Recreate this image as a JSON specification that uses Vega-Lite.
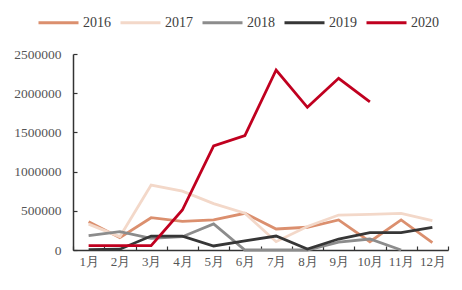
{
  "$schema": "https://vega.github.io/schema/vega-lite/v6.json",
  "width": 375,
  "height": 196,
  "autosize": {"type": "none"},
  "padding": {"left": 73, "top": 54, "right": 14, "bottom": 40},
  "background": "white",
  "config": {
    "view": {"stroke": null},
    "font": "Liberation Serif"
  },
  "datasets": {
    "rows": [
      {"year": "2016", "month": "1月", "value": 361000},
      {"year": "2016", "month": "2月", "value": 157000},
      {"year": "2016", "month": "3月", "value": 412000},
      {"year": "2016", "month": "4月", "value": 365000},
      {"year": "2016", "month": "5月", "value": 383000},
      {"year": "2016", "month": "6月", "value": 468000},
      {"year": "2016", "month": "7月", "value": 268000},
      {"year": "2016", "month": "8月", "value": 290000},
      {"year": "2016", "month": "9月", "value": 383000},
      {"year": "2016", "month": "10月", "value": 106000},
      {"year": "2016", "month": "11月", "value": 383000},
      {"year": "2016", "month": "12月", "value": 93000},
      {"year": "2017", "month": "1月", "value": 330000},
      {"year": "2017", "month": "2月", "value": 170000},
      {"year": "2017", "month": "3月", "value": 829000},
      {"year": "2017", "month": "4月", "value": 750000},
      {"year": "2017", "month": "5月", "value": 592000},
      {"year": "2017", "month": "6月", "value": 470000},
      {"year": "2017", "month": "7月", "value": 106000},
      {"year": "2017", "month": "8月", "value": 300000},
      {"year": "2017", "month": "9月", "value": 446000},
      {"year": "2017", "month": "10月", "value": 455000},
      {"year": "2017", "month": "11月", "value": 468000},
      {"year": "2017", "month": "12月", "value": 374000},
      {"year": "2018", "month": "1月", "value": 183000},
      {"year": "2018", "month": "2月", "value": 234000},
      {"year": "2018", "month": "3月", "value": 149000},
      {"year": "2018", "month": "4月", "value": 170000},
      {"year": "2018", "month": "5月", "value": 332000},
      {"year": "2018", "month": "6月", "value": 0},
      {"year": "2018", "month": "7月", "value": 0},
      {"year": "2018", "month": "8月", "value": 0},
      {"year": "2018", "month": "9月", "value": 100000},
      {"year": "2018", "month": "10月", "value": 140000},
      {"year": "2018", "month": "11月", "value": 0},
      {"year": "2019", "month": "1月", "value": 5000},
      {"year": "2019", "month": "2月", "value": 10000},
      {"year": "2019", "month": "3月", "value": 178000},
      {"year": "2019", "month": "4月", "value": 178000},
      {"year": "2019", "month": "5月", "value": 51000},
      {"year": "2019", "month": "6月", "value": 115000},
      {"year": "2019", "month": "7月", "value": 178000},
      {"year": "2019", "month": "8月", "value": 13000},
      {"year": "2019", "month": "9月", "value": 140000},
      {"year": "2019", "month": "10月", "value": 221000},
      {"year": "2019", "month": "11月", "value": 221000},
      {"year": "2019", "month": "12月", "value": 290000},
      {"year": "2020", "month": "1月", "value": 55000},
      {"year": "2020", "month": "2月", "value": 55000},
      {"year": "2020", "month": "3月", "value": 55000},
      {"year": "2020", "month": "4月", "value": 510000},
      {"year": "2020", "month": "5月", "value": 1327000},
      {"year": "2020", "month": "6月", "value": 1458000},
      {"year": "2020", "month": "7月", "value": 2296000},
      {"year": "2020", "month": "8月", "value": 1820000},
      {"year": "2020", "month": "9月", "value": 2190000},
      {"year": "2020", "month": "10月", "value": 1888000}
    ]
  },
  "data": {"name": "rows"},
  "mark": {"type": "line", "strokeWidth": 2.8},
  "encoding": {
    "x": {
      "field": "month",
      "type": "nominal",
      "sort": ["1月","2月","3月","4月","5月","6月","7月","8月","9月","10月","11月","12月"],
      "scale": {"type": "band", "paddingInner": 0, "paddingOuter": 0},
      "axis": {
        "title": null,
        "labelAngle": 0,
        "labelFont": "Liberation Serif",
        "labelFontSize": 13,
        "labelColor": "#555555",
        "labelPadding": 9,
        "domainColor": "#333333",
        "domainWidth": 1.5,
        "tickColor": "#333333",
        "tickWidth": 1.2,
        "tickSize": -4,
        "tickBand": "extent",
        "grid": false
      }
    },
    "y": {
      "field": "value",
      "type": "quantitative",
      "scale": {"domain": [0, 2500000], "nice": false},
      "axis": {
        "title": null,
        "values": [0, 500000, 1000000, 1500000, 2000000, 2500000],
        "format": "d",
        "labelFont": "Liberation Serif",
        "labelFontSize": 13.5,
        "labelColor": "#555555",
        "labelPadding": 16,
        "domainColor": "#333333",
        "domainWidth": 1.5,
        "tickColor": "#333333",
        "tickWidth": 1.2,
        "tickSize": -4,
        "grid": false
      }
    },
    "color": {
      "field": "year",
      "type": "nominal",
      "scale": {
        "domain": ["2016", "2017", "2018", "2019", "2020"],
        "range": ["#DB8F6E", "#F3D8C9", "#8C8C8C", "#363636", "#C0001F"]
      },
      "legend": {
        "title": null,
        "orient": "none",
        "direction": "horizontal",
        "legendX": -36,
        "legendY": -53,
        "symbolType": "stroke",
        "symbolSize": 1600,
        "symbolStrokeWidth": 3,
        "labelFont": "Liberation Serif",
        "labelFontSize": 14,
        "labelColor": "#404040",
        "labelOffset": 3,
        "columnPadding": 3
      }
    }
  }
}
